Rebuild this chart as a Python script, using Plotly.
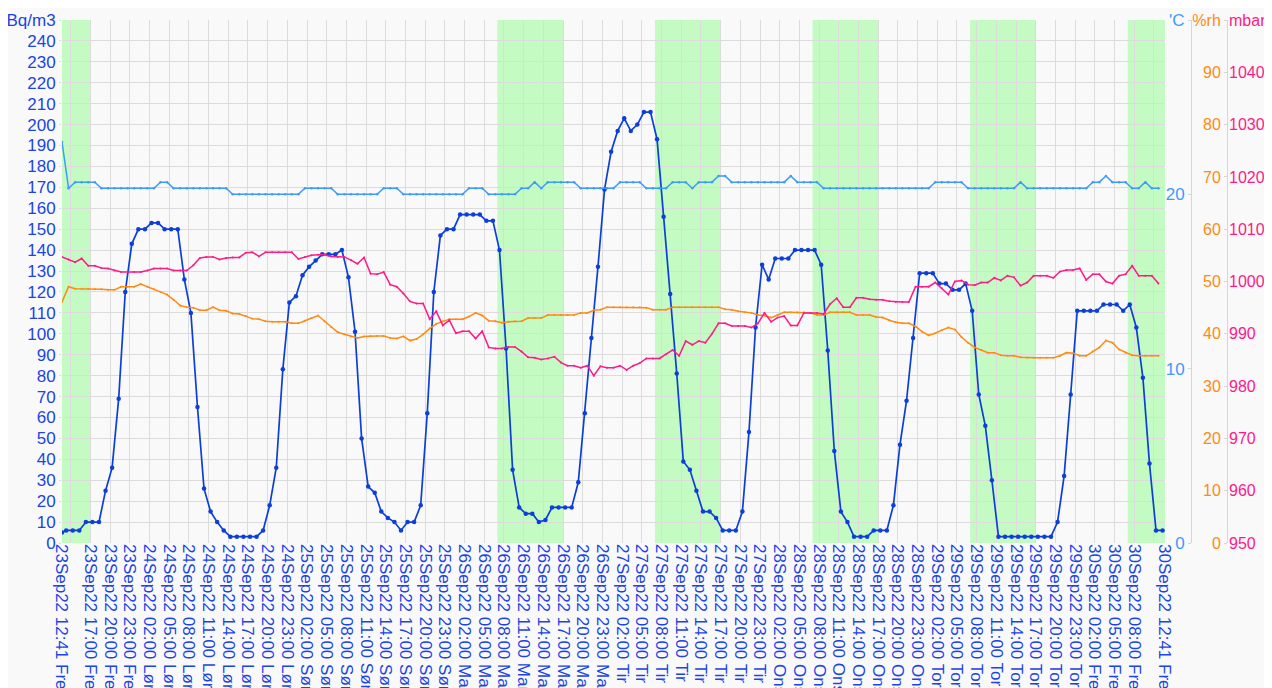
import pandas as pd
import plotly.graph_objects as go

# ---------------- data ----------------
radon_start = "2022-09-23 12:41"
radon_hourly_start = "2022-09-23 13:19"
climate_start = "2022-09-23 12:41"
x_range = ["2022-09-23 12:41", "2022-09-30 12:41"]

radon = [
    5, 6, 6, 6, 10, 10, 10, 25, 36, 69, 120, 143, 150, 150, 153, 153, 150, 150, 150, 126,
    110, 65, 26, 15, 10, 6, 3, 3, 3, 3, 3, 6, 18, 36, 83, 115, 118, 128, 132, 135,
    138, 138, 138, 140, 127, 101, 50, 27, 24, 15, 12, 10, 6, 10, 10, 18, 62, 120, 147, 150,
    150, 157, 157, 157, 157, 154, 154, 140, 93, 35, 17, 14, 14, 10, 11, 17, 17, 17, 17, 29,
    62, 98, 132, 169, 187, 197, 203, 197, 200, 206, 206, 193, 156, 119, 81, 39, 35, 25, 15, 15,
    12, 6, 6, 6, 15, 53, 103, 133, 126, 136, 136, 136, 140, 140, 140, 140, 133, 92, 44, 15,
    10, 3, 3, 3, 6, 6, 6, 18, 47, 68, 98, 129, 129, 129, 124, 124, 121, 121, 124, 111,
    71, 56, 30, 3, 3, 3, 3, 3, 3, 3, 3, 3, 10, 32, 71, 111, 111, 111, 111, 114,
    114, 114, 111, 114, 103, 79, 38, 6, 6,
]

temperature = [
    23.0, 20.35, 20.7, 20.7, 20.7, 20.7, 20.35, 20.35, 20.35, 20.35, 20.35, 20.35, 20.35, 20.35, 20.35, 20.7, 20.7, 20.35, 20.35, 20.35,
    20.35, 20.35, 20.35, 20.35, 20.35, 20.35, 20.0, 20.0, 20.0, 20.0, 20.0, 20.0, 20.0, 20.0, 20.0, 20.0, 20.0, 20.35, 20.35, 20.35,
    20.35, 20.35, 20.0, 20.0, 20.0, 20.0, 20.0, 20.0, 20.0, 20.35, 20.35, 20.35, 20.0, 20.0, 20.0, 20.0, 20.0, 20.0, 20.0, 20.0,
    20.0, 20.0, 20.35, 20.35, 20.35, 20.0, 20.0, 20.0, 20.0, 20.0, 20.35, 20.35, 20.7, 20.35, 20.7, 20.7, 20.7, 20.7, 20.7, 20.35,
    20.35, 20.35, 20.35, 20.35, 20.35, 20.7, 20.7, 20.7, 20.7, 20.35, 20.35, 20.35, 20.35, 20.7, 20.7, 20.7, 20.35, 20.7, 20.7, 20.7,
    21.05, 21.05, 20.7, 20.7, 20.7, 20.7, 20.7, 20.7, 20.7, 20.7, 20.7, 21.05, 20.7, 20.7, 20.7, 20.7, 20.35, 20.35, 20.35, 20.35,
    20.35, 20.35, 20.35, 20.35, 20.35, 20.35, 20.35, 20.35, 20.35, 20.35, 20.35, 20.35, 20.35, 20.7, 20.7, 20.7, 20.7, 20.7, 20.35, 20.35,
    20.35, 20.35, 20.35, 20.35, 20.35, 20.35, 20.7, 20.35, 20.35, 20.35, 20.35, 20.35, 20.35, 20.35, 20.35, 20.35, 20.35, 20.7, 20.7, 21.05,
    20.7, 20.7, 20.7, 20.35, 20.35, 20.7, 20.35, 20.35,
]

humidity = [
    46.1, 49.0, 48.6, 48.6, 48.6, 48.5, 48.5, 48.4, 48.4, 49.0, 49.0, 49.0, 49.5, 49.0, 48.5, 48.0, 47.5, 46.5, 45.4, 45.1,
    45.0, 44.5, 44.5, 45.1, 44.5, 44.4, 43.9, 43.8, 43.4, 42.9, 42.8, 42.4, 42.3, 42.3, 42.3, 42.0, 42.0, 42.5, 43.0, 43.5,
    42.4, 41.3, 40.3, 39.9, 39.5, 39.2, 39.5, 39.6, 39.6, 39.6, 39.2, 39.1, 39.5, 38.7, 39.0, 39.9, 41.0, 41.9, 42.4, 42.8,
    42.8, 42.8, 43.3, 44.0, 43.5, 42.5, 42.4, 42.1, 42.3, 42.4, 42.4, 43.0, 43.0, 43.0, 43.6, 43.6, 43.6, 43.6, 43.6, 44.0,
    44.0, 44.5, 44.6, 45.1, 45.1, 45.1, 45.1, 45.1, 45.1, 45.0, 44.6, 44.6, 44.6, 45.1, 45.1, 45.1, 45.1, 45.1, 45.1, 45.1,
    45.1, 44.7, 44.6, 44.3, 44.1, 44.0, 43.6, 43.5, 43.1, 43.6, 44.1, 44.1, 44.1, 44.1, 44.0, 43.6, 43.6, 44.1, 44.1, 44.1,
    44.1, 43.6, 43.6, 43.6, 43.2, 43.1, 42.6, 42.2, 42.0, 42.0, 41.4, 40.4, 39.7, 40.1, 40.7, 41.2, 40.8, 39.4, 38.3, 37.4,
    36.9, 36.4, 36.4, 35.9, 35.8, 35.8, 35.5, 35.4, 35.4, 35.4, 35.4, 35.4, 35.8, 36.4, 36.3, 35.8, 35.8, 36.6, 37.4, 38.7,
    38.3, 37.0, 36.4, 35.9, 35.8, 35.8, 35.8, 35.8,
]

pressure = [
    1004.7, 1004.2, 1003.7, 1004.4, 1003.0, 1003.0, 1002.6, 1002.5, 1002.1, 1001.8, 1001.8, 1001.8, 1001.8, 1002.1, 1002.5, 1002.5, 1002.5, 1002.1, 1002.1, 1002.1,
    1003.1, 1004.5, 1004.7, 1004.7, 1004.2, 1004.5, 1004.6, 1004.6, 1005.5, 1005.6, 1004.8, 1005.6, 1005.6, 1005.6, 1005.6, 1005.6, 1004.3, 1004.7, 1005.0, 1005.1,
    1005.1, 1004.8, 1004.7, 1004.7, 1004.1, 1003.4, 1004.6, 1001.5, 1001.4, 1001.8, 999.4, 999.0, 997.7, 996.2, 995.8, 995.8, 992.8, 994.3, 991.6, 992.6,
    990.1, 990.5, 990.5, 989.1, 990.5, 987.4, 987.2, 987.2, 987.5, 987.5, 986.6, 985.5, 985.4, 985.1, 985.3, 985.6, 984.5, 983.9, 983.9, 983.5,
    983.9, 982.0, 983.8, 983.5, 983.5, 983.9, 983.1, 983.9, 984.4, 985.3, 985.3, 985.3, 986.1, 986.9, 985.8, 988.6, 987.9, 988.6, 988.3, 990.0,
    992.0, 992.0, 991.5, 991.5, 991.5, 991.2, 992.0, 994.0, 992.3, 993.1, 993.4, 991.6, 991.6, 994.0, 994.0, 994.0, 993.8, 995.7, 996.8, 995.1,
    995.1, 996.9, 996.9, 996.6, 996.5, 996.5, 996.2, 996.1, 996.1, 996.1, 999.0, 999.0, 999.0, 999.8, 998.7, 997.5, 1000.0, 1000.2, 999.4, 999.3,
    999.8, 999.8, 1000.7, 1000.2, 1001.1, 1000.8, 999.2, 999.8, 1001.1, 1001.1, 1001.1, 1000.7, 1001.9, 1002.2, 1002.2, 1002.5, 1000.3, 1001.4, 1001.4, 1000.0,
    999.6, 1001.1, 1001.4, 1003.0, 1001.1, 1001.1, 1001.1, 999.6,
]

# working-hour bands (green)
bands = [
    ("2022-09-23 12:41", "2022-09-23 17:00"),
    ("2022-09-26 07:00", "2022-09-26 17:00"),
    ("2022-09-27 07:00", "2022-09-27 17:00"),
    ("2022-09-28 07:00", "2022-09-28 17:00"),
    ("2022-09-29 07:00", "2022-09-29 17:00"),
    ("2022-09-30 07:00", "2022-09-30 12:41"),
]

day_names = ["Man", "Tir", "Ons", "Tor", "Fre", "Lør", "Søn"]
first_regular_tick = "2022-09-23 17:00"
last_regular_tick = "2022-09-30 08:00"

# ---------------- derived times ----------------
radon_times = [pd.Timestamp(radon_start)] + list(
    pd.date_range(radon_hourly_start, periods=len(radon) - 1, freq="h"))
climate_times = list(pd.date_range(climate_start, periods=len(temperature), freq="h"))

tick_times = [pd.Timestamp(x_range[0])] + list(
    pd.date_range(first_regular_tick, last_regular_tick, freq="3h")) + [pd.Timestamp(x_range[1])]
tick_text = [f"{t.day}Sep22 {t:%H:%M} {day_names[t.weekday()]}" for t in tick_times]

# ---------------- figure ----------------
BLUE = "#1a44e6"
RADON = "#0b3fd8"
TEMP = "#3d9bff"
RH = "#ff8a12"
MBAR = "#ff1a88"
GRID = "#dcdcdc"
FONT = "Liberation Sans, Arial, sans-serif"

# the page body has an 8px margin, so the figure starts at (8, 8)
OFF = 8
W, H = 1264, 680
ML, MR, MT, MB = 54, 0, 12, 145
pw = W - ML - MR
px = lambda x_page: (x_page - OFF - ML) / pw

fig = go.Figure()
fig.add_trace(go.Scatter(x=climate_times, y=temperature, yaxis="y2", mode="lines+markers",
                         line=dict(color=TEMP, width=1.5), marker=dict(size=2.5, color=TEMP),
                         name="°C"))
fig.add_trace(go.Scatter(x=climate_times, y=humidity, yaxis="y3", mode="lines+markers",
                         line=dict(color=RH, width=1.5), marker=dict(size=2, color=RH),
                         name="%rh"))
fig.add_trace(go.Scatter(x=climate_times, y=pressure, yaxis="y4", mode="lines+markers",
                         line=dict(color=MBAR, width=1.5), marker=dict(size=2, color=MBAR),
                         name="mbar"))
fig.add_trace(go.Scatter(x=radon_times, y=radon, yaxis="y", mode="lines+markers",
                         line=dict(color=RADON, width=1.7), marker=dict(size=4.5, color=RADON),
                         name="Bq/m3"))

shapes = []
for b0, b1 in bands:
    shapes.append(dict(type="rect", xref="x", yref="y", x0=b0, x1=b1, y0=0, y1=250,
                       fillcolor="#c3fbc3", line=dict(width=0), layer="below"))

rad_vals = list(range(0, 251, 10))
rh_vals = list(range(0, 101, 10))
mbar_vals = list(range(950, 1051, 10))

fig.update_layout(
    width=W, height=H,
    margin=dict(l=ML, r=MR, t=MT, b=MB, pad=0),
    paper_bgcolor="#f9f9f9", plot_bgcolor="#f9f9f9",
    showlegend=False, template="none",
    font=dict(family=FONT, size=17, color=BLUE),
    shapes=shapes,
    xaxis=dict(type="date", domain=[0, px(1165)], range=x_range,
               tickvals=tick_times, ticktext=tick_text, tickangle=90,
               tickfont=dict(size=17, color=BLUE, family=FONT),
               showgrid=True, gridcolor=GRID, gridwidth=1, zeroline=False,
               showline=False, ticks="", automargin=False,
               minor=dict(dtick=3 * 3600 * 1000, tick0="2022-09-23 02:00",
                          showgrid=True, gridcolor=GRID, gridwidth=1, ticks="")),
    yaxis=dict(range=[0, 250], tickvals=rad_vals,
               ticktext=[str(v) for v in rad_vals[:-1]] + ["Bq/m3"],
               tickfont=dict(size=17, color=BLUE, family=FONT),
               showgrid=True, gridcolor=GRID, zeroline=False, showline=False,
               ticks="outside", ticklen=2, tickcolor=GRID, automargin=False),
    yaxis2=dict(range=[0, 30], overlaying="y", anchor="free", position=px(1191), side="left",
                tickvals=[0, 10, 20, 30], ticktext=["0", "10", "20", "'C"],
                tickfont=dict(size=17, color=TEMP, family=FONT),
                showgrid=False, zeroline=False, showline=True, linecolor="#d6d6d6",
                ticks="outside", ticklen=3, tickcolor="#d6d6d6", automargin=False),
    yaxis3=dict(range=[0, 100], overlaying="y", anchor="free", position=px(1227), side="left",
                tickvals=rh_vals, ticktext=[str(v) for v in rh_vals[:-1]] + ["%rh"],
                tickfont=dict(size=16, color=RH, family=FONT),
                showgrid=False, zeroline=False, showline=True, linecolor="#d6d6d6",
                ticks="outside", ticklen=3, tickcolor="#d6d6d6", automargin=False),
    yaxis4=dict(range=[950, 1050], overlaying="y", anchor="free", position=px(1228), side="right",
                tickvals=mbar_vals, ticktext=[str(v) for v in mbar_vals[:-1]] + ["mbar"],
                tickfont=dict(size=16, color=MBAR, family=FONT),
                showgrid=False, zeroline=False, showline=False,
                ticks="", automargin=False),
)

fig.write_html("out.html")
